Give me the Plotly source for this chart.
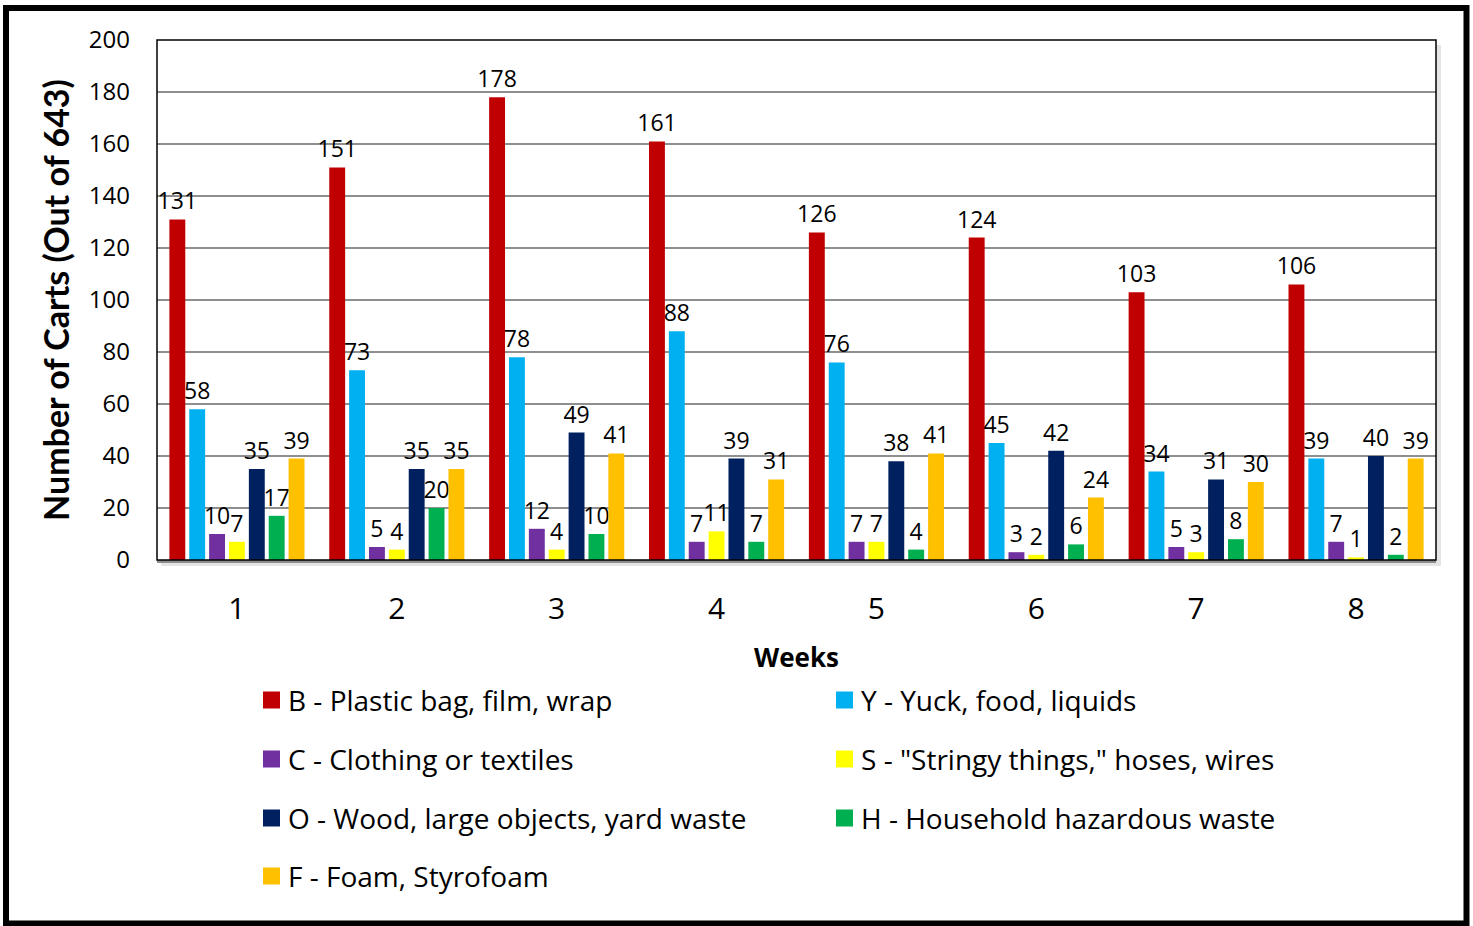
import plotly.graph_objects as go

weeks = ["1", "2", "3", "4", "5", "6", "7", "8"]
series_names = [
    "B - Plastic bag, film, wrap",
    "Y - Yuck, food, liquids",
    "C - Clothing or textiles",
    'S - "Stringy things," hoses, wires',
    "O - Wood, large objects, yard waste",
    "H - Household hazardous waste",
    "F - Foam, Styrofoam",
]
b_plastic = [131, 151, 178, 161, 126, 124, 103, 106]
y_yuck = [58, 73, 78, 88, 76, 45, 34, 39]
c_clothing = [10, 5, 12, 7, 7, 3, 5, 7]
s_stringy = [7, 4, 4, 11, 7, 2, 3, 1]
o_wood = [35, 35, 49, 39, 38, 42, 31, 40]
h_hazard = [17, 20, 10, 7, 4, 6, 8, 2]
f_foam = [39, 35, 41, 31, 41, 24, 30, 39]
series_values = [b_plastic, y_yuck, c_clothing, s_stringy, o_wood, h_hazard, f_foam]
colors = ["#C00000", "#00B0F0", "#7030A0", "#FFFF00", "#002060", "#00B050", "#FFC000"]
y_ticks = list(range(0, 201, 20))

FONT = "Open Sans, Noto Sans, sans-serif"
FONT_TITLE = "Lato, Open Sans, sans-serif"
W, H = 1473, 926
L, R, T, B = 157, 1436, 40, 560

def px_x(p):
    return (p - L) / (R - L)

def px_y(p):
    return (B - p) / (B - T)

fig = go.Figure()
for name, vals, col in zip(series_names, series_values, colors):
    fig.add_trace(go.Bar(
        x=weeks, y=vals, name=name, marker=dict(color=col, line=dict(width=0)),
        texttemplate="%{y}", textposition="outside", constraintext="none",
        textfont=dict(size=23, color="black", family=FONT), cliponaxis=False,
        showlegend=False,
    ))

shapes = []
# outer border
shapes.append(dict(type="rect", xref="paper", yref="paper",
                   x0=px_x(6), x1=px_x(1466.5), y0=px_y(923.5), y1=px_y(8),
                   line=dict(color="black", width=6), layer="below"))
# shadow
shapes.append(dict(type="rect", xref="paper", yref="paper",
                   x0=px_x(L + 4), x1=px_x(R + 5), y0=px_y(B + 6), y1=px_y(T + 5),
                   fillcolor="rgba(0,0,0,0.10)", line=dict(width=0), layer="below"))
shapes.append(dict(type="rect", xref="paper", yref="paper",
                   x0=0, x1=1, y0=0, y1=1,
                   fillcolor="white", line=dict(width=0), layer="below"))
# plot frame top / left / right
shapes.append(dict(type="rect", xref="paper", yref="paper", x0=0, x1=1, y0=0, y1=1,
                   line=dict(color="black", width=1.5), layer="above"))

annotations = []
# manual legend (two columns)
leg_cols = [263, 836]
leg_rows = [700, 759, 818, 876]
for i, (name, col) in enumerate(zip(series_names, colors)):
    cx = leg_cols[i % 2]
    cy = leg_rows[i // 2]
    shapes.append(dict(type="rect", xref="paper", yref="paper",
                       x0=px_x(cx), x1=px_x(cx + 17), y0=px_y(cy + 8.5), y1=px_y(cy - 8.5),
                       fillcolor=col, line=dict(width=0)))
    annotations.append(dict(xref="paper", yref="paper", x=px_x(cx + 23), y=px_y(cy),
                            text=name, showarrow=False, xanchor="left", yanchor="middle",
                            font=dict(size=28, color="black", family=FONT)))

fig.update_layout(
    width=W, height=H,
    margin=dict(l=L, r=W - R, t=T, b=H - B, autoexpand=False),
    paper_bgcolor="white", plot_bgcolor="rgba(0,0,0,0)",
    barmode="group", bargap=0.13, bargroupgap=0.2,
    font=dict(family=FONT, color="black"),
    shapes=shapes, annotations=annotations, showlegend=False,
    xaxis=dict(
        showgrid=False, showline=True, linecolor="#8C8C8C", linewidth=3,
        tickfont=dict(size=30, family=FONT), ticks="", ticklabelstandoff=20,
        title=dict(text="<b>Weeks</b>", font=dict(size=26, family=FONT), standoff=22),
    ),
    yaxis=dict(
        range=[0, 200], tickvals=y_ticks, showgrid=True, gridcolor="#8F8F8F", gridwidth=1.5,
        zeroline=False, showline=False, ticks="",
        tickfont=dict(size=24, family=FONT), ticklabelstandoff=26,
        title=dict(text="<b>Number of Carts (Out of 643)</b>", font=dict(size=34, family=FONT_TITLE), standoff=8),
    ),
)

fig.write_html("out.html")
